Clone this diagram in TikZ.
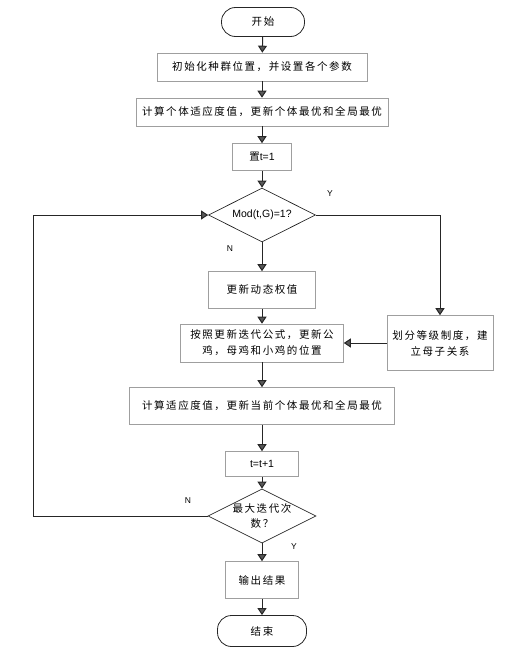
\documentclass[tikz,border=0pt]{standalone}
\usepackage{fontspec}
\setmainfont{Noto Sans CJK SC}[LetterSpace=15]
\newfontfamily\latin{Liberation Sans}
\usetikzlibrary{arrows.meta}
\usetikzlibrary{shapes.geometric}
\tikzstyle{boite}      =[draw=gray!75, line width=0.6pt, rectangle, inner sep=0pt, align=center, font=\fontsize{10.5}{16}\selectfont]
\tikzstyle{terminal}   =[draw=black!85, line width=0.8pt, rectangle, rounded corners=14pt, inner sep=0pt, font=\fontsize{10.5}{12}\selectfont]
\tikzstyle{losange}    =[draw=black!85, line width=0.7pt, diamond, aspect=2, inner sep=0pt, align=center, font=\fontsize{10.5}{15}\selectfont]
\tikzstyle{fleche}     =[draw=black!85, line width=1pt, -{Triangle[length=7pt,width=9pt,fill=black!65]}]
\tikzstyle{etiquette}  =[font=\latin\fontsize{8.5}{10}\selectfont]

\begin{document}
\begin{tikzpicture}[x=1pt,y=-1pt]

%cadre de la figure
\useasboundingbox (0,0) rectangle (506,653);

%%%%%%%%%%%%%%%%%%%%%%%%
%les blocs
%%%%%%%%%%%%%%%%%%%%%%%%
\node[terminal,minimum width=83pt,minimum height=29pt] (debut) at (263,22) {开始};
\node[boite,minimum width=210pt,minimum height=28pt] (init) at (262,67) {初始化种群位置，并设置各个参数};
\node[boite,minimum width=252pt,minimum height=28pt] (calcul) at (262,112) {计算个体适应度值，更新个体最优和全局最优};
\node[boite,minimum width=59pt,minimum height=27pt] (tun) at (262,157) {置{\latin\fontsize{10.5}{12}\selectfont t=1}};
\node[losange,minimum width=107pt,minimum height=54pt] (modulo) at (262,215) {\latin\fontsize{10.5}{12}\selectfont Mod(t,G)=1?};
\node[boite,minimum width=107pt,minimum height=37pt] (poids) at (262,290) {更新动态权值};
\node[boite,minimum width=163pt,minimum height=38pt] (position) at (262,343) {按照更新迭代公式，更新公\\鸡，母鸡和小鸡的位置};
\node[boite,minimum width=106pt,minimum height=55pt] (niveau) at (440,343) {划分等级制度，建\\立母子关系};
\node[boite,minimum width=265pt,minimum height=37pt] (miseajour) at (262,406) {计算适应度值，更新当前个体最优和全局最优};
\node[boite,minimum width=73pt,minimum height=25pt] (increment) at (262,464) {\latin\fontsize{10.5}{12}\selectfont t=t+1};
\node[losange,minimum width=105pt,minimum height=54pt] (arret) at (262,516) {最大迭代次\\数？};
\node[boite,minimum width=73pt,minimum height=37pt] (sortie) at (262,580) {输出结果};
\node[terminal,minimum width=89pt,minimum height=31pt] (fin) at (262,631) {结束};

%les étiquettes Y / N
\node[etiquette] (oui1) at (330,194) {Y};
\node[etiquette] (non1) at (230,249) {N};
\node[etiquette] (non2) at (188,501) {N};
\node[etiquette] (oui2) at (294,547) {Y};

%%%%%%%%%%%%%%%%%%%%%%%%
%les flèches
%%%%%%%%%%%%%%%%%%%%%%%%
\draw[fleche] (debut) -- (init);
\draw[fleche] (init) -- (calcul);
\draw[fleche] (calcul) -- (tun);
\draw[fleche] (tun) -- (modulo);
\draw[fleche] (modulo) -- (poids);
\draw[fleche] (poids) -- (position);
\draw[fleche] (modulo.east) -| (niveau.north);
\draw[fleche] (niveau.west) -- (position.east);
\draw[fleche] (position) -- (miseajour);
\draw[fleche] (miseajour) -- (increment);
\draw[fleche] (increment) -- (arret);
\draw[fleche] (arret) -- (sortie);
\draw[fleche] (sortie) -- (fin);

%la boucle de retour
\coordinate (retour) at (33,516);
\draw[fleche] (arret.west) -- (retour) |- (modulo.west);

\end{tikzpicture}
\end{document}
